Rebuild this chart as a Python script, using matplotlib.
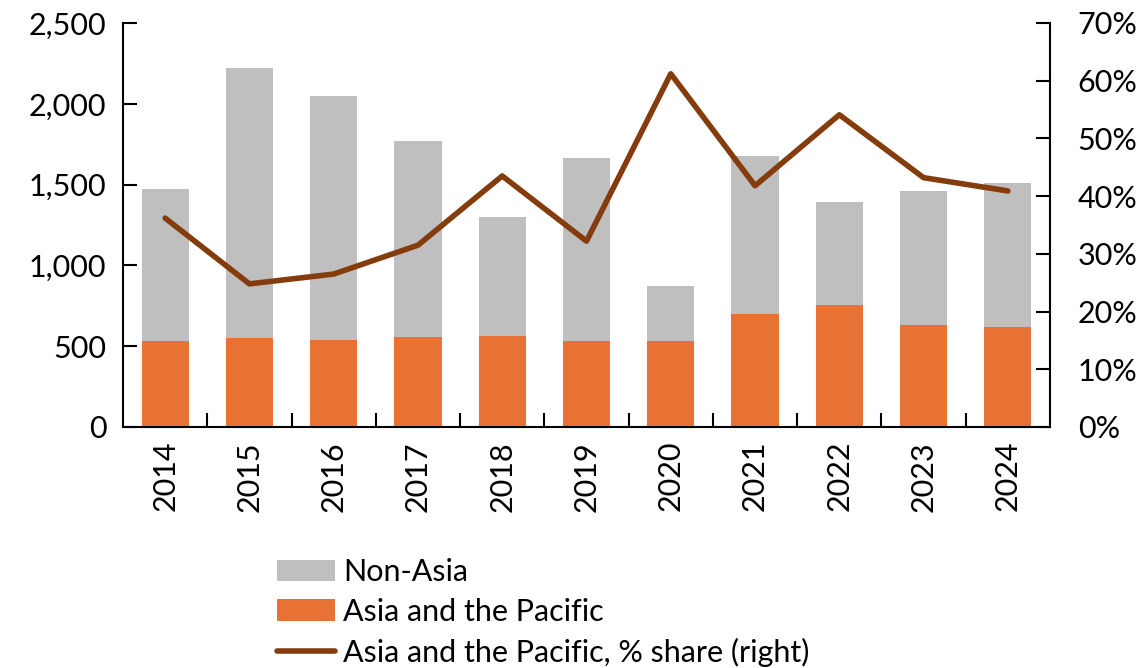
import matplotlib
matplotlib.use('Agg')
import matplotlib.pyplot as plt
import numpy as np
from matplotlib.ticker import FuncFormatter, FixedLocator

years = ['2014', '2015', '2016', '2017', '2018', '2019', '2020', '2021', '2022', '2023', '2024']
total = [1475, 2222, 2048, 1770, 1300, 1665, 873, 1677, 1392, 1460, 1510]
asia = [530, 551, 538, 557, 563, 532, 532, 699, 755, 631, 619]
share = [36.2, 24.8, 26.5, 31.5, 43.5, 32.2, 61.2, 41.8, 54.1, 43.2, 40.9]

non_asia = [t - a for t, a in zip(total, asia)]

plt.rcParams['font.family'] = ['Lato', 'DejaVu Sans']
plt.rcParams['font.size'] = 22

fig = plt.figure(figsize=(11.42, 6.68), dpi=100)
ax = fig.add_axes([123 / 1142, 1 - 427 / 668, (1050 - 123) / 1142, (427 - 23) / 668])
x = np.arange(len(years))

ax.bar(x, asia, width=0.56, color='#E87234', label='Asia and the Pacific', zorder=2)
ax.bar(x, non_asia, width=0.56, bottom=asia, color='#BFBFBF', label='Non-Asia', zorder=2)
ax.set_xlim(-0.5, len(years) - 0.5)
ax.set_ylim(0, 2500)
ax.set_yticks(np.arange(0, 2501, 500))
ax.yaxis.set_major_formatter(FuncFormatter(lambda v, p: f'{int(v):,}'))
ax.set_xticks(x)
ax.set_xticklabels(years, rotation=90)
ax.xaxis.set_minor_locator(FixedLocator(x[:-1] + 0.5))
ax.tick_params(axis='x', which='major', length=0, pad=10)
ax.tick_params(axis='x', which='minor', direction='in', length=10, width=1.5)
ax.tick_params(axis='y', direction='in', length=10, width=1.5, pad=12)
for s in ['top', 'right']:
    ax.spines[s].set_visible(False)
for s in ['left', 'bottom']:
    ax.spines[s].set_linewidth(1.5)

ax2 = ax.twinx()
ax2.plot(x, share, color='#843C0C', lw=4, solid_capstyle='round', label='Asia and the Pacific, % share (right)')
ax2.set_ylim(0, 70)
ax2.set_yticks(np.arange(0, 71, 10))
ax2.yaxis.set_major_formatter(FuncFormatter(lambda v, p: f'{int(v)}%'))
ax2.tick_params(axis='y', direction='in', length=10, width=1.5, pad=20)
for s in ['top', 'left', 'bottom']:
    ax2.spines[s].set_visible(False)
ax2.spines['right'].set_linewidth(1.5)

h1, l1 = ax.get_legend_handles_labels()
h2, l2 = ax2.get_legend_handles_labels()
handles = [h1[1], h1[0], h2[0]]
labels = [l1[1], l1[0], l2[0]]
fig.legend(handles, labels, loc='upper left', bbox_to_anchor=(265 / 1142, 1 - 546 / 668),
           frameon=False, handlelength=1.9, handletextpad=0.25, labelspacing=0.38, borderaxespad=0)

fig.savefig('out.png', dpi=100)
